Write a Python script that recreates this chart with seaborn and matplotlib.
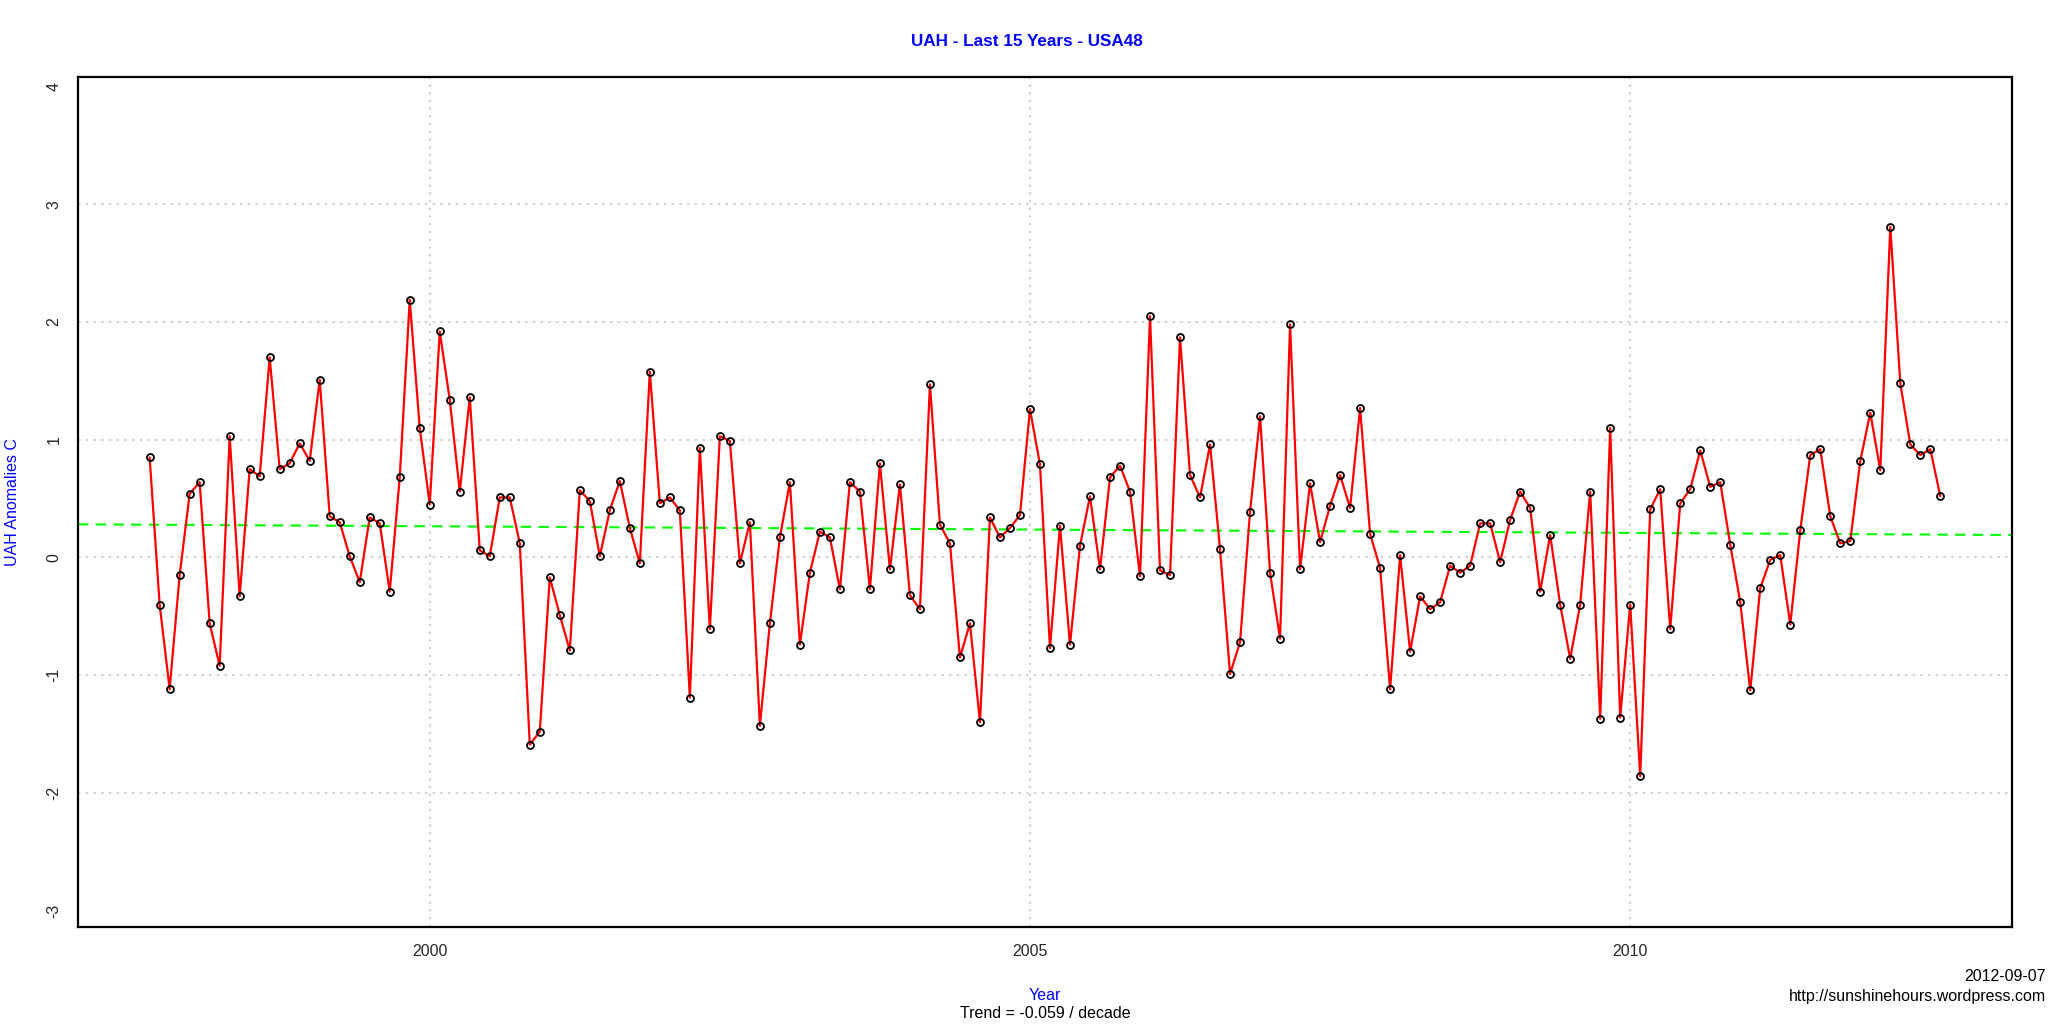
import numpy as np
import pandas as pd
import matplotlib
matplotlib.use('Agg')
import matplotlib.pyplot as plt
import seaborn as sns

# Monthly UAH USA48 anomalies, Sep 1997 .. Aug 2012
anom_1997_1999 = [0.85, -0.40, -1.12, -0.15,
                  0.54, 0.64, -0.56, -0.92, 1.03, -0.33, 0.75, 0.69, 1.70, 0.75, 0.80, 0.97,
                  0.82, 1.51, 0.35, 0.30, 0.01, -0.21, 0.34, 0.29, -0.29, 0.68, 2.19, 1.10]
anom_2000_2002 = [0.45, 1.92, 1.34, 0.56, 1.36, 0.06, 0.01, 0.51, 0.51, 0.12, -1.59, -1.48,
                  -0.17, -0.49, -0.79, 0.57, 0.48, 0.01, 0.40, 0.65, 0.25, -0.05, 1.58, 0.46,
                  0.51, 0.40, -1.19, 0.93, -0.61, 1.03, 0.99, -0.05, 0.30, -1.43, -0.56, 0.17]
anom_2003_2005 = [0.64, -0.74, -0.13, 0.22, 0.17, -0.27, 0.64, 0.56, -0.27, 0.80, -0.10, 0.62,
                  -0.32, -0.44, 1.47, 0.28, 0.12, -0.85, -0.56, -1.40, 0.34, 0.17, 0.25, 0.36,
                  1.26, 0.79, -0.77, 0.27, -0.74, 0.10, 0.52, -0.10, 0.68, 0.78, 0.56, -0.16]
anom_2006_2008 = [2.05, -0.11, -0.15, 1.87, 0.70, 0.51, 0.96, 0.07, -0.99, -0.72, 0.39, 1.20,
                  -0.13, -0.69, 1.98, -0.10, 0.63, 0.13, 0.44, 0.70, 0.42, 1.27, 0.20, -0.09,
                  -1.12, 0.02, -0.80, -0.33, -0.44, -0.38, -0.07, -0.13, -0.07, 0.29, 0.29, -0.04]
anom_2009_2012 = [0.32, 0.56, 0.42, -0.29, 0.19, -0.40, -0.86, -0.40, 0.56, -1.37, 1.10, -1.36,
                  -0.40, -1.86, 0.41, 0.58, -0.61, 0.46, 0.58, 0.91, 0.60, 0.64, 0.11, -0.38,
                  -1.13, -0.26, -0.02, 0.02, -0.57, 0.23, 0.87, 0.92, 0.35, 0.12, 0.14, 0.82,
                  1.23, 0.74, 2.81, 1.48, 0.96, 0.87, 0.92, 0.52]

anom = anom_1997_1999 + anom_2000_2002 + anom_2003_2005 + anom_2006_2008 + anom_2009_2012
start_year, start_month = 1997, 9
years = start_year + (start_month - 1 + np.arange(len(anom))) / 12.0
df = pd.DataFrame({'Year': years, 'Anomaly': anom})

x_ticks = [2000, 2005, 2010]
y_ticks = [-3, -2, -1, 0, 1, 2, 3, 4]
grid_y = [-2, -1, 0, 1, 2, 3]

title = 'UAH - Last 15 Years - USA48'
trend_text = 'Trend = -0.059 / decade'
date_text = '2012-09-07'
url_text = 'http://sunshinehours.wordpress.com'

sns.set_style('white')
plt.rcParams['font.family'] = ['Liberation Sans', 'DejaVu Sans']

fig = plt.figure(figsize=(20.53, 10.25), dpi=100)
ax = fig.add_axes([0.038, 0.0956, 0.942, 0.829])
ax.set_xlim(1997.07, 2013.18)
ax.set_ylim(-3.14, 4.08)

# dotted grid
for gy in grid_y:
    ax.axhline(gy, color='lightgray', ls=(0, (1.2, 2.5)), lw=1.5, zorder=0)
for gx in x_ticks:
    ax.axvline(gx, color='lightgray', ls=(0, (1.2, 2.5)), lw=1.5, zorder=0)

# linear trend over the full axis width
sns.regplot(data=df, x='Year', y='Anomaly', scatter=False, ci=None, truncate=False,
            color='#00FF00', line_kws={'ls': (0, (5, 3.5)), 'lw': 1.5}, ax=ax)

sns.lineplot(data=df, x='Year', y='Anomaly', color='red', lw=1.6, ax=ax,
             marker='o', markersize=5, markerfacecolor='none',
             markeredgecolor='black', markeredgewidth=1.3)

ax.set_xlim(1997.07, 2013.18)
ax.set_ylim(-3.14, 4.08)
ax.set_xticks(x_ticks)
ax.set_yticks(y_ticks)
ax.set_xticklabels([str(t) for t in x_ticks], fontsize=11.5)
ax.set_yticklabels([str(t) for t in y_ticks], fontsize=11.5, rotation=90, va='center')
ax.tick_params(direction='out', length=7, width=1, color='black', pad=5)
ax.set_xlabel('')
ax.set_ylabel('')
for sp in ax.spines.values():
    sp.set_color('black')
    sp.set_linewidth(1.6)

fig.text(0.5, 0.960, title, ha='center', va='center', fontsize=12.3,
         fontweight='bold', color='blue')
fig.text(0.0063, 0.51, 'UAH Anomalies C', rotation=90, ha='center', va='center',
         fontsize=11.5, color='blue')
fig.text(0.509, 0.029, 'Year', ha='center', va='center', fontsize=11.5, color='blue')
fig.text(0.509, 0.0117, trend_text, ha='center', va='center', fontsize=11.5, color='black')
fig.text(0.9966, 0.047, date_text, ha='right', va='center', fontsize=11.5, color='black')
fig.text(0.9966, 0.028, url_text, ha='right', va='center', fontsize=11.5, color='black')

fig.savefig('out.png', dpi=100, facecolor='white')
